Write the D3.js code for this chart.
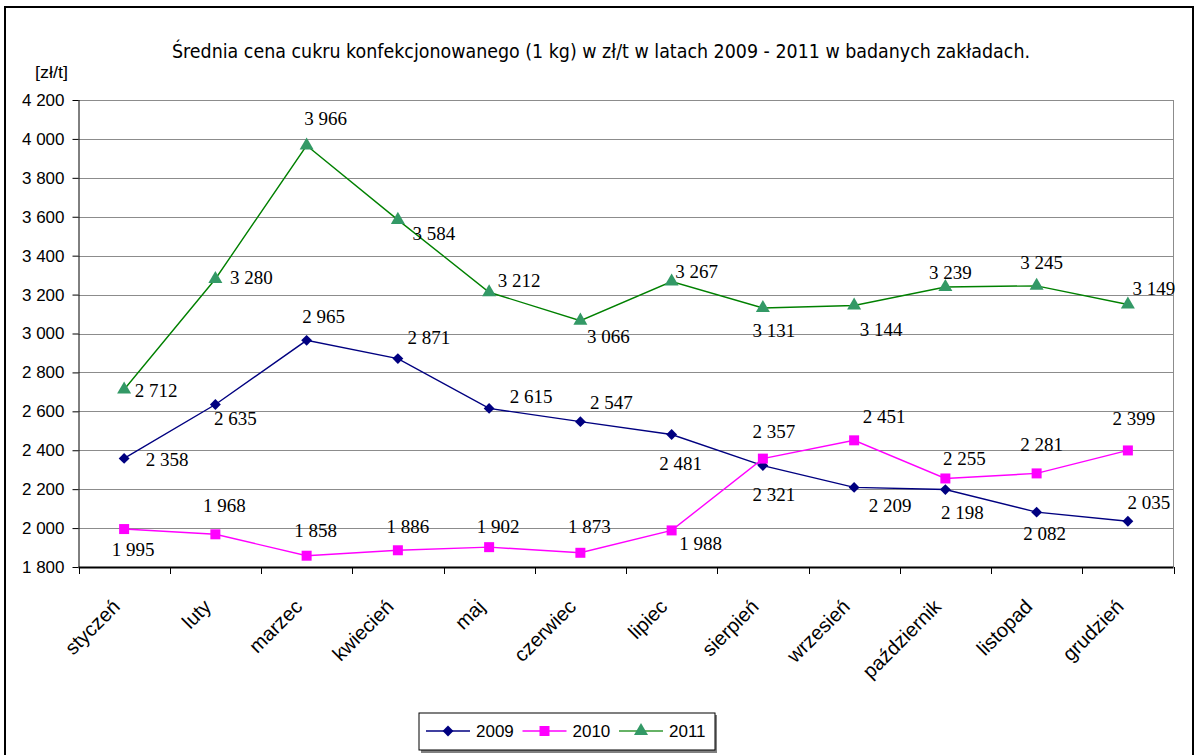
<!DOCTYPE html>
<html>
<head>
<meta charset="utf-8" />
<script src="https://cdn.jsdelivr.net/npm/d3@7"></script>
<style>
  body { margin: 0; background: #fff; }
  .title { font-family: "Liberation Sans Narrow", "DejaVu Sans", sans-serif; font-size: 20px; }
  .tick-lbl { font-family: "Liberation Sans", Arial, sans-serif; font-size: 16px; }
  .val { font-family: "Liberation Serif", "Times New Roman", "DejaVu Serif", serif; font-size: 19px; }
  .grid line { stroke: #8c8c8c; stroke-width: 1; }
</style>
</head>
<body>
<div id="chart"></div>
<script>
var W = 1196, H = 755;

var months = ["styczeń", "luty", "marzec", "kwiecień", "maj", "czerwiec",
  "lipiec", "sierpień", "wrzesień", "październik", "listopad", "grudzień"];
var years = ["2009", "2010", "2011"];
var v2009 = [2358, 2635, 2965, 2871, 2615, 2547, 2481, 2321, 2209, 2198, 2082, 2035];
var v2010 = [1995, 1968, 1858, 1886, 1902, 1873, 1988, 2357, 2451, 2255, 2281, 2399];
var v2011 = [2712, 3280, 3966, 3584, 3212, 3066, 3267, 3131, 3144, 3239, 3245, 3149];
var yTicks = [1800, 2000, 2200, 2400, 2600, 2800, 3000, 3200, 3400, 3600, 3800, 4000, 4200];

// where each value label sits relative to its point (dx, dy)
var off2009 = [[43,1],[20,14],[17,-24],[31,-21],[42,-12],[31,-19],[9,29],[11,29],[36,18],[17,23],[8,21],[21,-19]];
var off2010 = [[9,20],[9,-29],[9,-25],[10,-24],[9,-21],[9,-26],[29,13],[11,-27],[30,-24],[19,-20],[5,-29],[6,-32]];
var off2011 = [[32,1],[36,-2],[19,-27],[36,14],[30,-12],[28,16],[25,-10],[11,22],[27,24],[5,-14],[5,-23],[26,-16]];

var series = [
  { name: years[0], values: v2009, offs: off2009, line: "#000080", fill: "#000080", sym: d3.symbolDiamond2, size: 75 },
  { name: years[1], values: v2010, offs: off2010, line: "#ff00ff", fill: "#ff00ff", sym: d3.symbolSquare, size: 100 },
  { name: years[2], values: v2011, offs: off2011, line: "#008000", fill: "#339966", sym: d3.symbolTriangle, size: 85 }
];

var plot = { left: 78.5, top: 100, right: 1173.5, bottom: 567 };

var svg = d3.select("#chart").append("svg").attr("width", W).attr("height", H);

// outer frame
svg.append("rect").attr("x", 5).attr("y", 7).attr("width", 1188).attr("height", 760)
  .attr("fill", "#fff").attr("stroke", "#000").attr("stroke-width", 2);

svg.append("text").attr("class", "title")
  .attr("x", 172).attr("y", 58)
  .attr("textLength", 858).attr("lengthAdjust", "spacingAndGlyphs")
  .text("Średnia cena cukru konfekcjonowanego (1 kg) w zł/t w latach 2009 - 2011  w badanych zakładach.");

svg.append("text").attr("class", "tick-lbl")
  .attr("x", 35).attr("y", 78).style("font-size", "17px")
  .attr("textLength", 33).attr("lengthAdjust", "spacingAndGlyphs").text("[zł/t]");

var x = d3.scaleBand().domain(months).range([plot.left, plot.right]);
var y = d3.scaleLinear().domain([1800, 4200]).range([plot.bottom, plot.top]);

// gridlines
svg.append("g").attr("class", "grid")
  .selectAll("line").data(yTicks.slice(1)).join("line")
  .attr("x1", plot.left).attr("x2", plot.right)
  .attr("y1", d => Math.round(y(d)) + 0.5).attr("y2", d => Math.round(y(d)) + 0.5);

svg.append("line").attr("x1", plot.right).attr("x2", plot.right)
  .attr("y1", plot.top).attr("y2", plot.bottom).attr("stroke", "#8c8c8c");

// y axis
var yAxis = svg.append("g").attr("transform", "translate(" + plot.left + ",0)")
  .call(d3.axisLeft(y).tickValues(yTicks).tickSize(6).tickPadding(8)
    .tickFormat(d => d3.format(",")(d).replace(",", " ")));
yAxis.attr("font-size", null).attr("font-family", null);
yAxis.select(".domain").attr("stroke", "#000").attr("d", "M0.5," + plot.top + "V" + plot.bottom);
yAxis.selectAll(".tick line").attr("stroke", "#000");
yAxis.selectAll("text").attr("class", "tick-lbl").attr("fill", "#000").style("font-size", "17px");

// x axis
var xAxis = svg.append("g").attr("transform", "translate(0," + plot.bottom + ")")
  .call(d3.axisBottom(x).tickSize(0).tickFormat(""));
xAxis.select(".domain").attr("stroke", "#000").attr("stroke-width", 2).attr("d", "M" + plot.left + ",0.5H" + plot.right);
var edges = months.map(m => x(m)).concat([plot.right]);
svg.append("g").selectAll("line").data(edges).join("line")
  .attr("x1", d => Math.round(d) + 0.5).attr("x2", d => Math.round(d) + 0.5)
  .attr("y1", plot.bottom).attr("y2", plot.bottom + 7).attr("stroke", "#000");

svg.append("g").selectAll("text").data(months).join("text")
  .attr("class", "tick-lbl")
  .attr("text-anchor", "end")
  .attr("transform", d => "translate(" + (x(d) + x.bandwidth() / 2 - 3) + "," + (plot.bottom + 41) + ") rotate(-45)")
  .style("font-size", "20px")
  .text(d => d);

// series
var line = d3.line().x((d, i) => x(months[i]) + x.bandwidth() / 2).y(d => y(d));

series.forEach(function (s) {
  var g = svg.append("g");
  g.append("path").attr("d", line(s.values)).attr("fill", "none")
    .attr("stroke", s.line).attr("stroke-width", 1.4);
  g.selectAll("path.m").data(s.values).join("path").attr("class", "m")
    .attr("transform", (d, i) => "translate(" + (x(months[i]) + x.bandwidth() / 2) + "," + y(d) + ")")
    .attr("d", d3.symbol().type(s.sym).size(s.size)())
    .attr("fill", s.fill);
  g.selectAll("text").data(s.values).join("text").attr("class", "val")
    .attr("text-anchor", "middle").attr("dominant-baseline", "central")
    .attr("x", (d, i) => x(months[i]) + x.bandwidth() / 2 + s.offs[i][0])
    .attr("y", (d, i) => y(d) + s.offs[i][1])
    .text(d => d3.format(",")(d).replace(",", " "));
});

// legend
var lg = svg.append("g");
lg.append("rect").attr("x", 421).attr("y", 715).attr("width", 296).attr("height", 38)
  .attr("fill", "#808080");
lg.append("rect").attr("x", 419).attr("y", 713).attr("width", 296).attr("height", 37)
  .attr("fill", "#fff").attr("stroke", "#000");
series.forEach(function (s, i) {
  var x0 = 426 + i * 96.5, cy = 731;
  lg.append("line").attr("x1", x0).attr("x2", x0 + 44).attr("y1", cy).attr("y2", cy)
    .attr("stroke", s.name === "2011" ? "#339933" : s.line).attr("stroke-width", 1.4);
  lg.append("path").attr("transform", "translate(" + (x0 + 22) + "," + cy + ")")
    .attr("d", d3.symbol().type(s.sym).size(s.size)()).attr("fill", s.fill);
  lg.append("text").attr("class", "tick-lbl").attr("x", x0 + 50).attr("y", cy + 6)
    .style("font-size", "17px").text(s.name);
});
</script>
</body>
</html>
